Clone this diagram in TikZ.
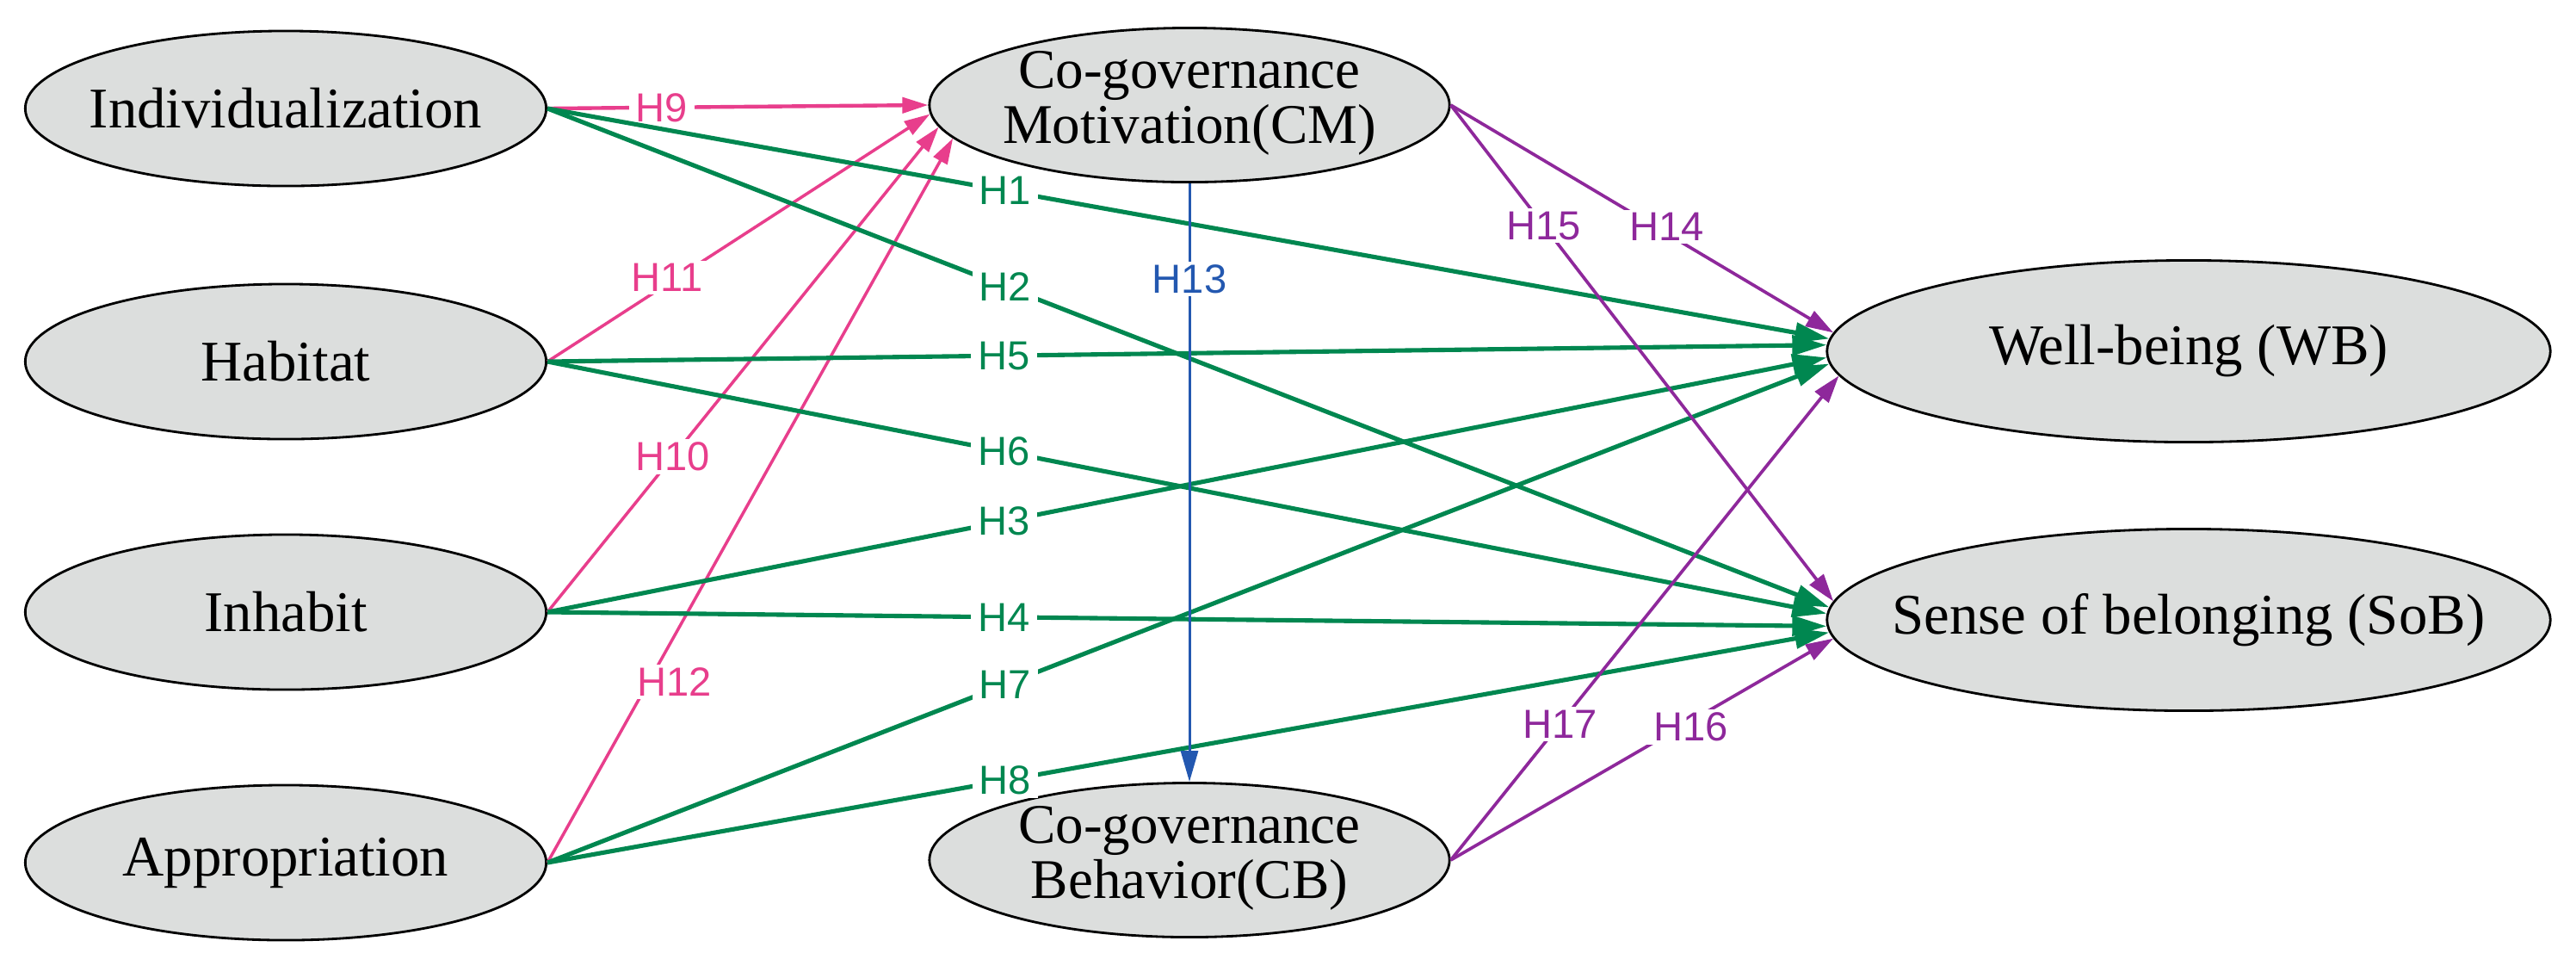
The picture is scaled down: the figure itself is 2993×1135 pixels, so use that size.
\documentclass[tikz,border=0pt]{standalone}
\usepackage{fontspec}
\setmainfont{Liberation Serif}
\newfontfamily\lblfont{Liberation Sans}
\usetikzlibrary{arrows.meta,shapes.geometric}
\definecolor{pinkc}{RGB}{232,62,140}
\definecolor{greenc}{RGB}{0,135,80}
\definecolor{purplec}{RGB}{142,40,155}
\definecolor{bluec}{RGB}{35,88,176}
\definecolor{fillc}{RGB}{220,222,221}
\begin{document}
\begin{tikzpicture}[x=0.01cm,y=-0.01cm,
  latent/.style={ellipse,draw=black,line width=0.8pt,fill=fillc,inner sep=0pt,inner ysep=-3pt,minimum height=1.8cm},
  lnode/.style={latent,minimum width=6.05cm,font=\fontsize{19}{22}\selectfont},
  mnode/.style={latent,minimum width=6.04cm,minimum height=1.79cm,font=\fontsize{18.5}{18.2}\selectfont},
  rnode/.style={latent,minimum width=8.4cm,minimum height=2.11cm,font=\fontsize{19}{22}\selectfont},
  pk/.style={color=pinkc,line width=1pt,-{Triangle[length=3mm,width=1.8mm]}},
  gr/.style={color=greenc,line width=1.45pt,-{Triangle[length=4mm,width=2.3mm]}},
  pu/.style={color=purplec,line width=1.05pt,-{Triangle[length=3.2mm,width=2mm]}},
  bl/.style={color=bluec,line width=0.85pt,-{Triangle[length=3.6mm,width=2mm]}},
  lbl/.style={font=\lblfont\fontsize{13.4}{14}\selectfont,fill=white,inner xsep=2.3pt,inner ysep=1pt}]
\useasboundingbox (0,0) rectangle (2993,1135);

% nodes
\node[lnode] (ind) at (332,126) {\makebox[0pt]{Individualization}};
\node[lnode] (hab) at (332,420) {\makebox[0pt]{Habitat}};
\node[lnode] (inh) at (332,711) {\makebox[0pt]{Inhabit}};
\node[lnode] (app) at (332,1002) {\makebox[0pt]{Appropriation}};
\node[mnode] (cm) at (1382,122) {\makebox[0pt]{\begin{tabular}{@{}c@{}}Co-governance\\Motivation(CM)\end{tabular}}};
\node[mnode] (cb) at (1382,999) {\makebox[0pt]{\begin{tabular}{@{}c@{}}Co-governance\\Behavior(CB)\end{tabular}}};
\node[rnode] (wb) at (2543,408) {\makebox[0pt]{Well-being (WB)}};
\node[rnode] (sob) at (2543,720) {\makebox[0pt]{Sense of belonging (SoB)}};

% pink: to CM
\draw[pk,line width=1.25pt] (ind.east) -- node[lbl,pos=0.30]{H9} (cm.west);
\draw[pk] (hab.east) -- node[lbl,pos=0.34,xshift=-0.12cm]{H11} (cm.182);
\draw[pk] (inh.east) -- node[lbl,pos=0.32]{H10} (cm.185);
\draw[pk] (app.east) -- node[lbl,pos=0.25,xshift=0.3cm]{H12} (cm.188);

% green: to WB / SoB
\draw[gr] (ind.east) -- node[lbl,pos=0.357]{H1} (wb.178);
\draw[gr] (ind.east) -- node[lbl,pos=0.357]{H2} (sob.178);
\draw[gr] (hab.east) -- node[lbl,pos=0.357]{H5} (wb.179);
\draw[gr] (hab.east) -- node[lbl,pos=0.357]{H6} (sob.179);
\draw[gr] (inh.east) -- node[lbl,pos=0.357]{H3} (wb.181);
\draw[gr] (inh.east) -- node[lbl,pos=0.357]{H4} (sob.181);
\draw[gr] (app.east) -- node[lbl,pos=0.357]{H7} (wb.182);
\draw[gr] (app.east) -- node[lbl,pos=0.357]{H8} (sob.182);

% purple
\draw[pu] (cm.east) -- node[lbl,pos=0.535,xshift=0.13cm]{H14} (wb.177);
\draw[pu] (cm.east) -- node[lbl,pos=0.243]{H15} (sob.177);
\draw[pu] (cb.east) -- node[lbl,pos=0.60,xshift=0.12cm]{H16} (sob.183);
\draw[pu] (cb.east) -- node[lbl,pos=0.281]{H17} (wb.184);

% blue
\draw[bl] (cm.south) -- node[lbl,pos=0.16]{H13} (cb.north);
\end{tikzpicture}
\end{document}
